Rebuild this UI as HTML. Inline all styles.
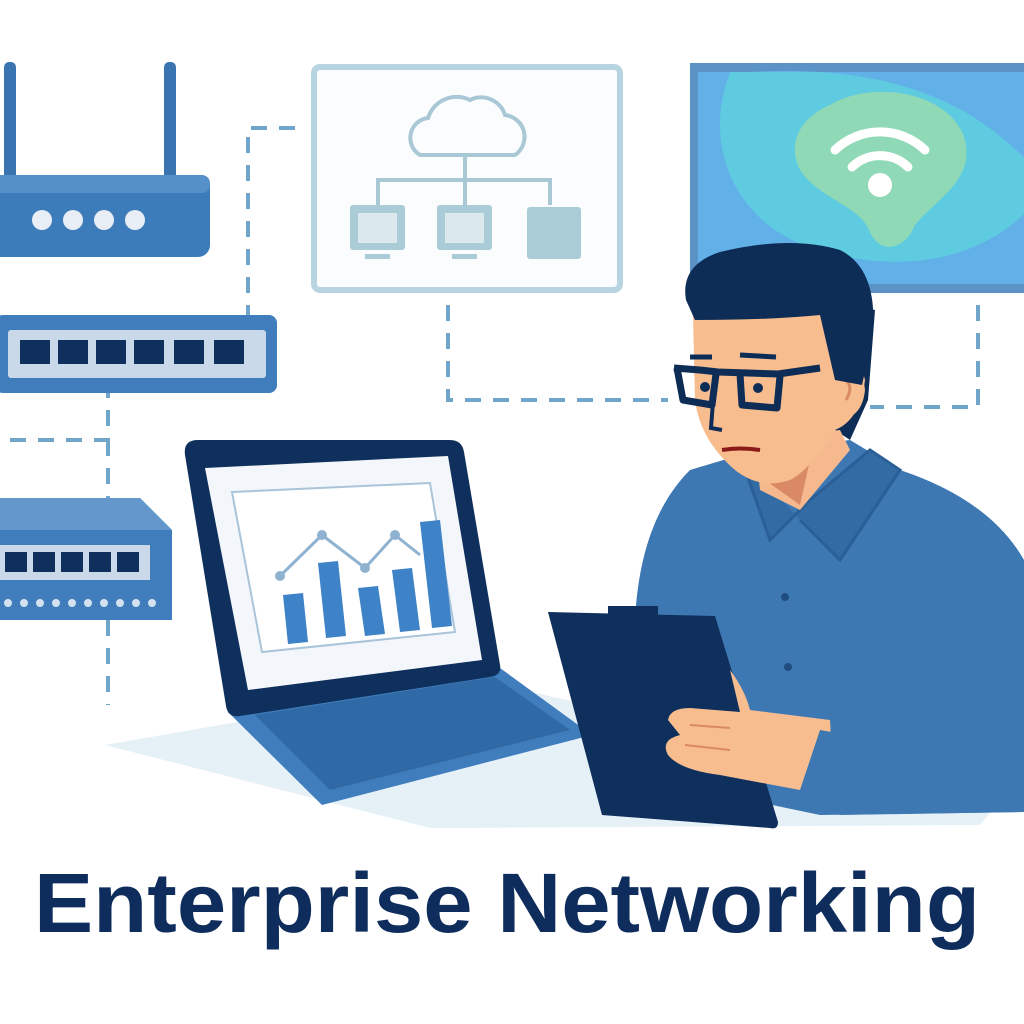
<!DOCTYPE html>
<html><head><style>html,body{margin:0;padding:0;background:#fff}svg{display:block}</style></head>
<body>
<svg width="1024" height="1024" viewBox="0 0 1024 1024" xmlns="http://www.w3.org/2000/svg">
<rect width="1024" height="1024" fill="#fff"/>
<!-- dashed connectors -->
<g stroke="#6fa6c9" stroke-width="4" fill="none" stroke-dasharray="16 12">
<path d="M295 128 H248 V315"/>
<path d="M10 440 H108 V392"/>
<path d="M108 440 V498"/>
<path d="M108 620 V705"/>
<path d="M448 305 V400 H668"/>
<path d="M978 305 V407 H870"/>
</g>
<!-- router -->
<rect x="4" y="62" width="12" height="125" rx="5" fill="#3a74b0"/>
<rect x="164" y="62" width="12" height="125" rx="5" fill="#3a74b0"/>
<rect x="-10" y="175" width="220" height="82" rx="12" fill="#3d7cbb"/>
<rect x="-10" y="175" width="220" height="18" rx="8" fill="#5690c9"/>
<g fill="#e8eef5"><circle cx="42" cy="220" r="10"/><circle cx="73" cy="220" r="10"/><circle cx="104" cy="220" r="10"/><circle cx="135" cy="220" r="10"/></g>
<!-- switch 1 -->
<rect x="-5" y="315" width="282" height="78" rx="8" fill="#3f7dbc"/>
<rect x="8" y="330" width="258" height="48" rx="3" fill="#c9d9ea"/>
<g fill="#0f2f5c"><rect x="20" y="340" width="30" height="24"/><rect x="58" y="340" width="30" height="24"/><rect x="96" y="340" width="30" height="24"/><rect x="134" y="340" width="30" height="24"/><rect x="174" y="340" width="30" height="24"/><rect x="214" y="340" width="30" height="24"/></g>
<!-- switch 2 -->
<path d="M-5 498 H140 L172 530 V620 H-5 Z" fill="#3f7dbc"/>
<path d="M-5 498 H140 L172 530 H-5 Z" fill="#6498cc"/>
<rect x="-5" y="545" width="155" height="35" fill="#c9d9ea"/>
<g fill="#0f2f5c"><rect x="5" y="552" width="22" height="20"/><rect x="33" y="552" width="22" height="20"/><rect x="61" y="552" width="22" height="20"/><rect x="89" y="552" width="22" height="20"/><rect x="117" y="552" width="22" height="20"/></g>
<g fill="#d4e2f0"><circle cx="8" cy="603" r="4"/><circle cx="24" cy="603" r="4"/><circle cx="40" cy="603" r="4"/><circle cx="56" cy="603" r="4"/><circle cx="72" cy="603" r="4"/><circle cx="88" cy="603" r="4"/><circle cx="104" cy="603" r="4"/><circle cx="120" cy="603" r="4"/><circle cx="136" cy="603" r="4"/><circle cx="152" cy="603" r="4"/></g>
<!-- cloud panel -->
<rect x="314" y="67" width="306" height="223" rx="6" fill="#fafcfd" stroke="#b9d4e1" stroke-width="6"/>
<g stroke="#a9c8d6" stroke-width="4" fill="none">
<path d="M420 155 H515 A22 22 0 0 0 505 115 A25 25 0 0 0 470 100 A30 30 0 0 0 428 118 A20 20 0 0 0 420 155 Z"/>
<path d="M465 155 V180 M378 205 V180 H550 V205 M465 180 V205"/>
</g>
<g fill="#a9ccd6"><rect x="350" y="205" width="55" height="45" rx="3"/><rect x="437" y="205" width="55" height="45" rx="3"/><rect x="527" y="207" width="54" height="52" rx="3"/></g>
<g fill="#dbe9ef"><rect x="358" y="213" width="39" height="30"/><rect x="445" y="213" width="39" height="30"/></g>
<g fill="#a9ccd6"><rect x="365" y="254" width="25" height="5"/><rect x="452" y="254" width="25" height="5"/></g>
<!-- wifi panel -->
<rect x="690" y="63" width="340" height="230" fill="#5b93c6"/>
<rect x="698" y="72" width="330" height="212" fill="#62b0e8"/>
<path d="M730 72 C700 150 740 230 820 250 C900 275 980 260 1028 210 V72 Z" fill="#5ecbe0"/>
<path d="M750 72 C950 60 1010 150 1028 160 V72 Z" fill="#62b0e8"/>
<path d="M830 105 C870 80 950 90 965 140 C975 180 935 200 915 225 C905 250 880 255 870 232 C860 205 820 200 800 170 C785 140 805 115 830 105 Z" fill="#8fd9b6"/>
<g fill="none" stroke="#fff" stroke-width="9" stroke-linecap="round">
<path d="M835 150 A65 65 0 0 1 925 150"/><path d="M852 167 A40 40 0 0 1 908 167"/>
</g>
<circle cx="880" cy="185" r="12" fill="#fff"/>
<!-- shadow -->
<path d="M105 745 L480 680 L1000 800 L980 825 L430 828 Z" fill="#e6f0f7"/>
<!-- laptop -->
<path d="M228 712 L500 668 L592 735 L322 805 Z" fill="#3f7dbc"/>
<path d="M255 715 L495 677 L570 730 L330 790 Z" fill="#2f6aa6"/>
<path d="M185 455 Q183 440 198 440 L450 440 Q462 440 464 452 L500 665 Q502 675 490 677 L240 716 Q228 718 226 706 Z" fill="#0f2f5c"/>
<path d="M205 468 L448 456 L482 660 L248 690 Z" fill="#f3f7fb"/>
<path d="M232 492 L430 483 L455 632 L262 652 Z" fill="#fff" stroke="#a9c4d8" stroke-width="2"/>
<g fill="#3e82c8"><path d="M283 595 L303 593 L308 642 L288 644 Z"/><path d="M318 563 L338 561 L346 636 L326 638 Z"/><path d="M358 588 L378 586 L385 634 L365 636 Z"/><path d="M392 570 L412 568 L420 630 L400 632 Z"/><path d="M420 522 L440 520 L452 626 L432 628 Z"/></g>
<polyline points="280,576 322,535 365,568 395,535 420,555" fill="none" stroke="#8fb2d0" stroke-width="3"/>
<g fill="#8fb2d0"><circle cx="280" cy="576" r="5"/><circle cx="322" cy="535" r="5"/><circle cx="365" cy="568" r="5"/><circle cx="395" cy="535" r="5"/></g>
<!-- person shirt -->
<path d="M690 470 L740 455 L850 440 L900 470 Q990 500 1024 560 V812 L820 815 L700 790 Q640 700 635 620 Q640 520 690 470 Z" fill="#3e78b3"/>
<path d="M740 455 L770 540 L810 500 L870 450 L900 470 L840 560 L800 520" fill="#336ca5" stroke="#2a5f97" stroke-width="3"/>
<g fill="#1f4d80"><circle cx="785" cy="597" r="4"/><circle cx="788" cy="667" r="4"/></g>
<!-- hair back right -->
<path d="M830 300 L875 310 L868 400 L850 440 L835 430 Z" fill="#0d2c56"/>
<!-- neck -->
<path d="M755 440 L840 430 L850 450 L800 510 L760 490 Z" fill="#f5b98d"/>
<path d="M765 480 Q800 470 810 460 L800 505 Z" fill="#d98a64"/>
<!-- face -->
<path d="M693 315 L845 300 L865 380 Q860 420 835 430 Q810 470 790 480 Q760 490 735 470 Q700 440 695 400 Z" fill="#f8bd8f"/>
<path d="M836 365 Q862 360 865 390 Q862 420 835 420 Z" fill="#f8bd8f"/>
<path d="M843 378 Q855 385 846 400" stroke="#d98a64" stroke-width="3" fill="none"/>
<path d="M686 300 Q680 265 720 252 Q790 235 840 250 Q880 270 872 340 L862 385 L835 380 L820 315 Q770 320 695 320 Z" fill="#0d2c56"/>
<g stroke="#0d2c56" stroke-width="7" fill="none" stroke-linejoin="round">
<path d="M674 368 L700 370 L718 372 L778 374 L820 368"/>
<path d="M677 368 L683 400 L712 405 L716 374"/>
<path d="M740 374 L742 405 L777 408 L780 376"/>
</g>
<path d="M713 402 L711 428 L722 430" stroke="#0d2c56" stroke-width="4" fill="none"/>
<g fill="#0d2c56"><circle cx="705" cy="387" r="5"/><circle cx="758" cy="388" r="5"/></g>
<path d="M690 357 L712 357 M740 355 L776 357" stroke="#0d2c56" stroke-width="5"/>
<path d="M722 450 Q740 447 760 450" stroke="#8b1a1a" stroke-width="4" fill="none"/>
<!-- tablet -->
<path d="M548 612 L715 616 L778 822 Q778 830 770 828 L602 815 Z" fill="#0f2f5c"/>
<rect x="608" y="606" width="50" height="14" fill="#0f2f5c"/>
<!-- hand -->
<path d="M730 670 Q745 690 750 710 L830 720 Q835 780 800 790 L720 775 Q680 770 668 755 Q660 740 680 735 L668 720 Q670 708 690 708 L740 712 Z" fill="#f8bd8f"/>
<path d="M690 725 L730 728 M685 745 L730 750" stroke="#d98a64" stroke-width="2"/>
<path d="M820 730 Q900 745 1024 735 V812 L840 815 Q820 800 800 790 Z" fill="#3e78b3"/>
<!-- title -->
<text x="34" y="932" textLength="946" lengthAdjust="spacingAndGlyphs" font-family="Liberation Sans, Arial, sans-serif" font-weight="bold" font-size="84" fill="#0f2d5c">Enterprise Networking</text>
</svg>
</body></html>
